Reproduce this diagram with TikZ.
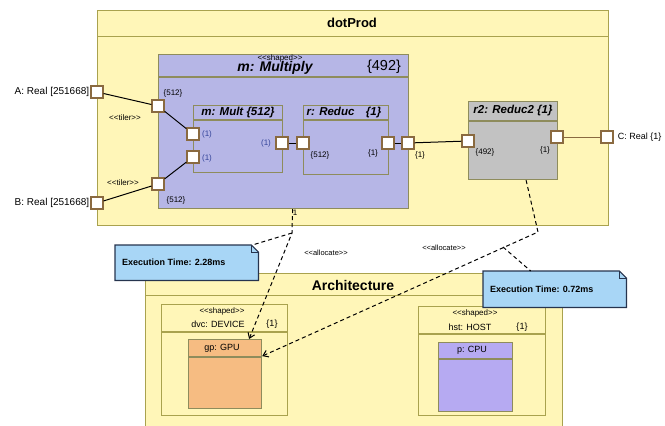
\documentclass[tikz,border=0pt]{standalone}
\usepackage{fontspec}
\setmainfont{Liberation Sans}
\usetikzlibrary{arrows.meta}
\definecolor{frameyel}{HTML}{FFF6B8}
\definecolor{frameline}{HTML}{A9A24E}
\definecolor{partline}{HTML}{8E8C5C}
\definecolor{lav}{HTML}{B6B6E6}
\definecolor{portline}{HTML}{8A6A40}
\definecolor{portlbl}{HTML}{34449A}
\definecolor{notefill}{HTML}{A8D6F6}
\definecolor{noteline}{HTML}{26344E}
\definecolor{gpufill}{HTML}{F6BC82}
\definecolor{cpufill}{HTML}{B6AAF2}
\definecolor{greyfill}{HTML}{C2C2C2}

\begin{document}
\begin{tikzpicture}[x=1pt,y=-1pt,
  frame/.style={draw=frameline,fill=frameyel,line width=1pt,anchor=north west,inner sep=0},
  part/.style={draw=partline,line width=1.2pt,anchor=north west,inner sep=0},
  port/.style={draw=portline,fill=white,line width=1.2pt,minimum size=12pt,inner sep=0},
  wire/.style={line width=1pt},
  alloc/.style={line width=1pt,dash pattern=on 4pt off 3pt},
  note/.style={anchor=north west,inner sep=0},
  big/.style={font=\bfseries\fontsize{14}{16}\selectfont,inner sep=0},
  ttl/.style={font=\bfseries\itshape\fontsize{11.5}{13}\selectfont,inner sep=0},
  lbl/.style={font=\fontsize{8}{9}\selectfont,inner sep=1pt},
  tny/.style={font=\fontsize{8}{9}\selectfont,inner sep=0},
  txt/.style={font=\fontsize{9}{10}\selectfont,inner sep=0}]
\useasboundingbox (0,0) rectangle (665,426);

% dotProd
\node[frame,minimum width=511,minimum height=215] (dot) at (97,10) {};
\draw[draw=frameline,line width=1pt] (97,36) -- (608,36);
\node[big,font=\bfseries\fontsize{13}{15}\selectfont] (dotT) at (352,23) {dotProd};

% m: Multiply
\node[part,fill=lav,minimum width=250,minimum height=154] (mul) at (158,54) {};
\draw[draw=partline,line width=1.2pt] (158,77) -- (408,77);
\node[tny] (mulS) at (280,58) {<{}<shaped>{}>};
\node[ttl,font=\bfseries\itshape\fontsize{14}{16}\selectfont] (mulT) at (275,68) {m: Multiply};
\node[inner sep=0,font=\fontsize{14.5}{16}\selectfont] (mulN) at (384,67) {\{492\}};

\node[part,fill=lav,minimum width=89,minimum height=67] (mult) at (193,105) {};
\draw[draw=partline,line width=1.2pt] (193,120) -- (282,120);
\node[ttl] (multT) at (238,113) {m: Mult \{512\}};

\node[part,fill=lav,minimum width=85,minimum height=69] (red) at (303,105) {};
\draw[draw=partline,line width=1.2pt] (303,120) -- (388,120);
\node[ttl] (redT) at (344,113) {r: Reduc\quad\{1\}};

% r2: Reduc2
\node[part,fill=greyfill,minimum width=89,minimum height=78] (r2) at (468,101) {};
\draw[draw=partline,line width=1.2pt] (468,121) -- (557,121);
\node[ttl] (r2T) at (513,111) {r2: Reduc2 \{1\}};

% ports
\node[port] (pA) at (97,92) {};
\node[port] (pB) at (97,203) {};
\node[port] (pC) at (607,137) {};
\node[port] (pM1) at (158,106) {};
\node[port] (pM2) at (158,184) {};
\node[port] (pMo) at (408,143) {};
\node[port] (pX1) at (193,134) {};
\node[port] (pX2) at (193,157) {};
\node[port] (pXo) at (282,143) {};
\node[port] (pRi) at (303,143) {};
\node[port] (pRo) at (388,143) {};
\node[port] (pSi) at (468,141) {};
\node[port] (pSo) at (557,137) {};

\node[lbl,font=\fontsize{10}{11}\selectfont,anchor=east] (lA) at (pA.west) {A: Real [251668]};
\node[lbl,font=\fontsize{10}{11}\selectfont,anchor=east] (lB) at (pB.west) {B: Real [251668]};
\node[lbl,font=\fontsize{9}{10}\selectfont,anchor=west] (lC) at ([xshift=3]pC.east) {C: Real \{1\}};
\node[lbl] (lM1) at (173,93) {\{512\}};
\node[lbl] (lM2) at (176,200) {\{512\}};
\node[lbl,text=portlbl] (lX1) at (207,134) {(1)};
\node[lbl,text=portlbl] (lX2) at (207,158) {(1)};
\node[lbl,text=portlbl] (lXo) at (266,143) {(1)};
\node[lbl] (lRi) at (320,155) {\{512\}};
\node[lbl] (lRo) at (373,153) {\{1\}};
\node[lbl] (lMo) at (420,155) {\{1\}};
\node[lbl] (lSi) at (485,152) {\{492\}};
\node[lbl] (lSo) at (545,150) {\{1\}};
\node[lbl] (tA) at (125,118) {<{}<tiler>{}>};
\node[lbl] (tB) at (123,183) {<{}<tiler>{}>};

% connectors
\draw[wire] (pA) -- (pM1);
\draw[wire] (pM1) -- (pX1);
\draw[wire] (pB) -- (pM2);
\draw[wire] (pM2) -- (pX2);
\draw[wire] (pXo) -- (pRi);
\draw[wire] (pRo) -- (pMo);
\draw[wire] (pMo) -- (pSi);
\draw[wire,draw=portline] (pSo) -- (pC);

% Architecture
\node[frame,minimum width=417,minimum height=153] (arch) at (145,273) {};
\draw[draw=frameline,line width=1pt] (145,295) -- (562,295);
\node[big] (archT) at (353,285) {Architecture};

\node[part,draw=frameline,minimum width=126,minimum height=111] (dvc) at (161,304) {};
\draw[draw=frameline,line width=1.2pt] (161,332) -- (287,332);
\node[tny] (dvcS) at (222,311) {<{}<shaped>{}>};
\node[txt] (dvcT) at (218,324) {dvc: DEVICE};
\node[txt] (dvcN) at (272,324) {\{1\}};
\node[part,fill=gpufill,minimum width=73,minimum height=69] (gp) at (188,339) {};
\draw[draw=partline,line width=1.2pt] (188,357) -- (261,357);
\node[txt] (gpT) at (222,348) {gp: GPU};

\node[part,draw=frameline,minimum width=127,minimum height=109] (hst) at (418,306) {};
\draw[draw=frameline,line width=1.2pt] (418,334) -- (545,334);
\node[tny] (hstS) at (475,313) {<{}<shaped>{}>};
\node[txt] (hstT) at (470,327) {hst: HOST};
\node[txt] (hstN) at (522,327) {\{1\}};
\node[part,fill=cpufill,minimum width=74,minimum height=69] (p) at (438,342) {};
\draw[draw=partline,line width=1.2pt] (438,359) -- (512,359);
\node[txt] (pT) at (472,350) {p: CPU};

% allocations
\coordinate (a1) at (292,233);
\coordinate (a2) at (538,232);
\coordinate (a3) at (503,247);
\draw[alloc,-{Straight Barb[length=5pt,width=7pt]}] ([xshift=9]mul.south) -- (a1) -- ([xshift=24]gp.north);
\draw[alloc,-{Straight Barb[length=5pt,width=7pt]}] ([xshift=13]r2.south) -- (a2) -- ([yshift=18]gp.east);
\node[lbl] (one) at (295,213) {1};
\node[tny,font=\fontsize{7.5}{8}\selectfont] (alA) at (326,253) {<{}<allocate>{}>};
\node[tny,font=\fontsize{7.5}{8}\selectfont] (alB) at (444,248) {<{}<allocate>{}>};

% notes
\node[note,minimum width=143,minimum height=35] (n1) at (115,245) {};
\filldraw[fill=notefill,draw=noteline,line width=1.2pt] (n1.north west) -- ([xshift=-7]n1.north east) -- ([yshift=-7]n1.north east) -- (n1.south east) -- (n1.south west) -- cycle;
\draw[noteline] ([xshift=-7]n1.north east) |- ([yshift=-7]n1.north east);
\node[txt,font=\bfseries\fontsize{9}{10}\selectfont,anchor=west] (n1T) at ([xshift=7]n1.west) {Execution Time: 2.28ms};
\node[note,minimum width=143,minimum height=36] (n2) at (483,271) {};
\filldraw[fill=notefill,draw=noteline,line width=1.2pt] (n2.north west) -- ([xshift=-7]n2.north east) -- ([yshift=-7]n2.north east) -- (n2.south east) -- (n2.south west) -- cycle;
\draw[noteline] ([xshift=-7]n2.north east) |- ([yshift=-7]n2.north east);
\node[txt,font=\bfseries\fontsize{9}{10}\selectfont,anchor=west] (n2T) at ([xshift=7]n2.west) {Execution Time: 0.72ms};
\draw[alloc] (a1) -- ([xshift=-6]n1.north east);
\draw[alloc] (a3) -- ([xshift=-24]n2.north);
\end{tikzpicture}
\end{document}
